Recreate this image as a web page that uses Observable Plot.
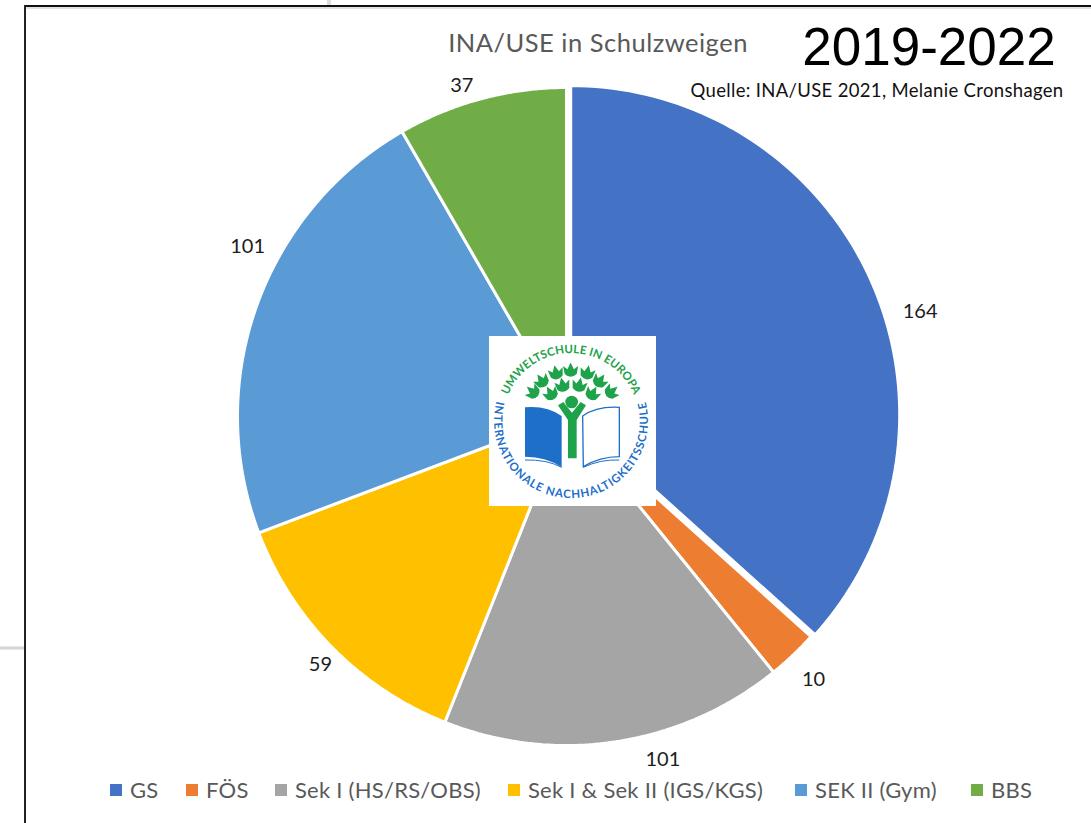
<!DOCTYPE html>
<html>
<head>
<meta charset="utf-8">
<script src="https://cdn.jsdelivr.net/npm/d3@7"></script>
<script src="https://cdn.jsdelivr.net/npm/@observablehq/plot@0.6"></script>
<style>
html,body{margin:0;padding:0;background:#fff;overflow:hidden}
#page{position:relative;width:1091px;height:823px;overflow:hidden}
#page svg{display:block}
.t{position:absolute;white-space:nowrap;transform:translateX(-50%)}
#title{left:598px;top:27px;font:25.5px Lato;color:#595959;letter-spacing:.5px}
#year{left:929px;top:16px;font:53px "Liberation Sans";color:#000}
#source{left:877px;top:79px;font:18.5px Lato;color:#111;letter-spacing:.33px}
#legend{position:absolute;left:0;top:776px;width:1091px;height:28px;font:22px Lato;color:#595959;line-height:28px;letter-spacing:.25px}
#legend span.i{position:absolute;top:0;display:flex;align-items:center;white-space:nowrap}
#legend span.k{display:inline-block;width:12px;height:12px;margin-right:8px}
</style>
</head>
<body>
<div id="page">
  <div class="t" id="title"></div>
  <div class="t" id="year"></div>
  <div class="t" id="source"></div>
  <div id="legend"></div>
</div>
<script>
// Data
const categories = ["GS", "FÖS", "Sek I (HS/RS/OBS)", "Sek I & Sek II (IGS/KGS)", "SEK II (Gym)", "BBS"];
const printedValues = [164, 10, 101, 59, 101, 37];
// Slice sizes as drawn in the picture, in degrees of arc
const drawnShares = [132, 9, 60.7, 47.6, 80.7, 30];
const colors = ["#4472C4", "#ED7D31", "#A5A5A5", "#FFC000", "#5B9BD5", "#70AD47"];
const chartTitle = "INA/USE in Schulzweigen";
const yearText = "2019-2022";
const sourceText = "Quelle: INA/USE 2021, Melanie Cronshagen";

// Layout
const W = 1091, H = 823, CX = 566, CY = 416, R = 329;
const explode = [0.014, 0, 0, 0, 0, 0];
const labelRadius = 1.1;
const labelNudge = [[23, 42], [-2, 1], [42, -15], [12, -6], [22, -48], [-11, 19]];
const legendLeft = [110, 186, 275, 508, 795, 971];

const pie = d3.pie().sort(null).value(d => d)(drawnShares);
const pt = (a, r) => [r * Math.sin(a), r * Math.cos(a)];
const wedges = [];
pie.forEach((s, i) => {
  const mid = (s.startAngle + s.endAngle) / 2;
  const [ox, oy] = pt(mid, explode[i]);
  const arc = d3.range(0, 1.0001, 1 / 90).map(t => pt(s.startAngle + t * (s.endAngle - s.startAngle), 1));
  [[0, 0], ...arc, [0, 0]].forEach(([x, y]) => wedges.push({cat: categories[i], x: x + ox, y: y + oy}));
});
const labelMarks = pie.map((s, i) => {
  const [x, y] = pt((s.startAngle + s.endAngle) / 2, labelRadius);
  return Plot.text([printedValues[i]], {
    x: () => x, y: () => y, text: d => String(d),
    dx: labelNudge[i][0], dy: labelNudge[i][1],
    fontSize: 20, fill: "#1c1c1c", fontFamily: "Lato"
  });
});

function ringPath(r, a0, a1, large, sweep) {
  const p = a => [r * Math.sin(a * Math.PI / 180), -r * Math.cos(a * Math.PI / 180)];
  const [x0, y0] = p(a0), [x1, y1] = p(a1);
  return `M${x0},${y0} A${r},${r} 0 ${large} ${sweep} ${x1},${y1}`;
}
function logo() {
  const g = d3.create("svg:g");
  g.append("rect").attr("x", 489).attr("y", 336).attr("width", 167).attr("height", 170).attr("fill", "#fff");
  const z = g.append("g").attr("transform", "translate(480,330) scale(0.3333)");
  const green = "#1EA24A", blue = "#1E6FC8";
  const leaves = [[228,128,-12],[272,120,0],[322,128,12],[185,152,-35],[360,152,35],[248,165,-12],[298,165,12],[158,185,-50],[212,190,-30],[338,190,30],[395,185,50]];
  leaves.forEach(([x,y,a]) => z.append("path")
    .attr("d","M-19,-10 L-8,-2 L0,-19 L8,-2 L19,-10 L15,10 Q0,24 -15,10 Z")
    .attr("transform",`translate(${x},${y}) rotate(${a}) scale(1.2)`).attr("fill",green));
  z.append("circle").attr("cx",275).attr("cy",216).attr("r",19).attr("fill",green);
  z.append("path").attr("d","M234,226 L250,216 L276,248 L302,216 L318,226 L290,270 L290,385 L264,385 L264,270 Z").attr("fill",green);
  z.append("path").attr("d","M135,232 Q200,226 245,258 L245,412 Q200,380 135,380 Z").attr("fill",blue);
  z.append("path").attr("d","M308,258 Q350,228 418,232 L418,380 Q360,380 310,410 Z").attr("fill","#fff").attr("stroke",blue).attr("stroke-width",4);
  z.append("path").attr("d","M135,390 Q200,388 245,412 M310,412 Q360,388 418,390").attr("fill","none").attr("stroke",blue).attr("stroke-width",3);
  const ring = g.append("g").attr("transform", "translate(571,421)");
  const defs = ring.append("defs");
  defs.append("path").attr("id","arcTop").attr("d",ringPath(68,-100,100,1,1));
  defs.append("path").attr("id","arcBot").attr("d",ringPath(77,-60,60,1,0));
  const t1 = ring.append("text").attr("fill",green).attr("font-family","Lato").attr("font-weight",700).attr("font-size",11.5);
  t1.append("textPath").attr("href","#arcTop").attr("startOffset","50%").attr("text-anchor","middle").attr("letter-spacing",".1").text("UMWELTSCHULE IN EUROPA");
  const t2 = ring.append("text").attr("fill",blue).attr("font-family","Lato").attr("font-weight",700).attr("font-size",11.5);
  t2.append("textPath").attr("href","#arcBot").attr("startOffset","50%").attr("text-anchor","middle").attr("letter-spacing",".9").text("INTERNATIONALE NACHHALTIGKEITSSCHULE");
  return g.node();
}
function frame() {
  const g = d3.create("svg:g");
  const line = (x1,y1,x2,y2,c,w) => g.append("line").attr("x1",x1).attr("y1",y1).attr("x2",x2).attr("y2",y2).attr("stroke",c).attr("stroke-width",w);
  line(329,0,329,6,"#dcdcdc",4);
  line(0,648,24,648,"#d4d4d4",3);
  line(26,8,W,8,"#e2e2e2",2);
  line(24,6,W,6,"#111",2);
  line(25,5,25,H,"#222",2);
  return g.node();
}

const chart = Plot.plot({
  width: W, height: H,
  margin: 0,
  style: {background: "transparent", overflow: "visible"},
  x: {domain: [-CX / R, (W - CX) / R], range: [0, W], axis: null},
  y: {domain: [-(H - CY) / R, CY / R], range: [H, 0], axis: null},
  color: {domain: categories, range: colors},
  marks: [
    frame,
    Plot.line(wedges, {x: "x", y: "y", z: "cat", fill: "cat", stroke: "#fff", strokeWidth: 3, curve: "linear", strokeLinejoin: "miter"}),
    logo,
    ...labelMarks
  ]
});
const page = document.getElementById("page");
page.prepend(chart);
chart.style.position = "absolute"; chart.style.left = "0"; chart.style.top = "0";
document.getElementById("title").textContent = chartTitle;
document.getElementById("year").textContent = yearText;
document.getElementById("source").textContent = sourceText;
const lg = d3.select("#legend");
categories.forEach((c, i) => {
  const it = lg.append("span").attr("class", "i").style("left", legendLeft[i] + "px");
  it.append("span").attr("class", "k").style("background", colors[i]);
  it.append("span").text(c);
});
</script>
</body>
</html>
